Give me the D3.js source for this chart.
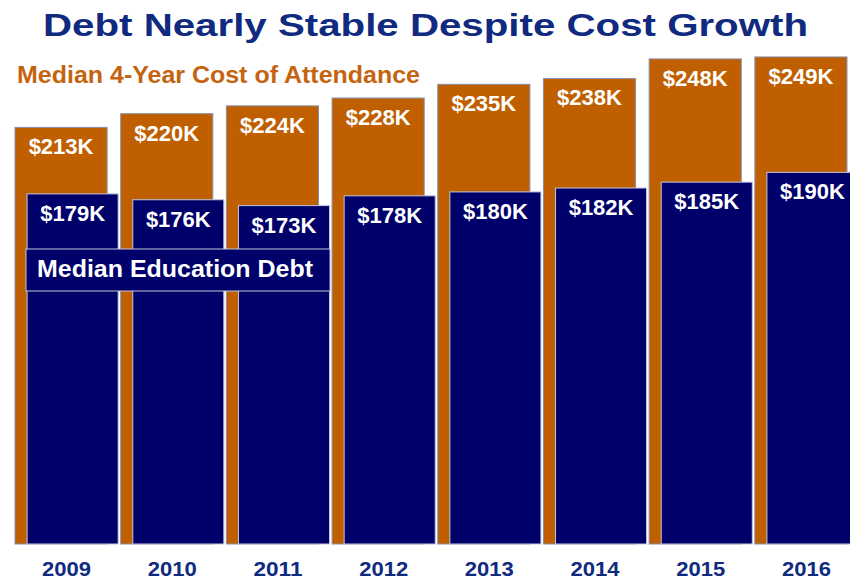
<!DOCTYPE html>
<html>
<head>
<meta charset="utf-8">
<script src="https://cdn.jsdelivr.net/npm/d3@7"></script>
<style>
  body { margin: 0; background: #fff; }
  svg { display: block; font-family: "Liberation Sans", Arial, sans-serif; }
</style>
</head>
<body>
<div id="chart"></div>
<script>
// data
const years = ["2009", "2010", "2011", "2012", "2013", "2014", "2015", "2016"];
const costOfAttendance = [213, 220, 224, 228, 235, 238, 248, 249];
const educationDebt = [179, 176, 173, 178, 180, 182, 185, 190];

const width = 850,
  height = 581;

const orange = "#bf5f00",
  navy = "#00006b",
  titleBlue = "#0f2a7e";

const svg = d3
  .select("#chart")
  .append("svg")
  .attr("width", width)
  .attr("height", height);

const x = d3.scaleBand().domain(years).range([15, 858]).paddingInner(0.024);

const y = d3.scaleLinear().domain([0, 250]).range([544, 55]);

const bw = x.bandwidth();
const costW = bw * 0.893,
  debtOff = bw * 0.117,
  debtW = bw * 0.883;

const data = years.map((yr, i) => ({
  year: yr,
  cost: costOfAttendance[i],
  debt: educationDebt[i],
}));

const fmt = (v) => "$" + v + "K";

const g = svg.selectAll("g.year").data(data).join("g").attr("class", "year");

// cost bars (orange, behind)
g.append("rect")
  .attr("x", (d) => x(d.year))
  .attr("y", (d) => y(d.cost))
  .attr("width", costW)
  .attr("height", (d) => y(0) - y(d.cost))
  .attr("fill", orange)
  .attr("stroke", "#8590ad")
  .attr("stroke-width", 1);

g.append("text")
  .attr("x", (d) => x(d.year) + costW / 2)
  .attr("y", (d) => y(d.cost) + 27)
  .attr("text-anchor", "middle")
  .attr("fill", "#fff")
  .attr("font-weight", "bold")
  .attr("font-size", 22)
  .text((d) => fmt(d.cost));

// debt bars (navy, front)
g.append("rect")
  .attr("x", (d) => x(d.year) + debtOff)
  .attr("y", (d) => y(d.debt))
  .attr("width", debtW)
  .attr("height", (d) => y(0) - y(d.debt))
  .attr("fill", navy)
  .attr("stroke", "#c4c8da")
  .attr("stroke-width", 1);

g.append("text")
  .attr("x", (d) => x(d.year) + debtOff + debtW / 2)
  .attr("y", (d) => y(d.debt) + 27)
  .attr("text-anchor", "middle")
  .attr("fill", "#fff")
  .attr("font-weight", "bold")
  .attr("font-size", 22)
  .text((d) => fmt(d.debt));

// year labels
svg
  .selectAll("text.yr")
  .data(years)
  .join("text")
  .attr("class", "yr")
  .attr("x", (d) => x(d) + bw / 2)
  .attr("y", 576)
  .attr("text-anchor", "middle")
  .attr("fill", titleBlue)
  .attr("font-weight", "bold")
  .attr("font-size", 21)
  .attr("textLength", 49)
  .attr("lengthAdjust", "spacingAndGlyphs")
  .text((d) => d);

// title
svg
  .append("text")
  .attr("x", 425.5)
  .attr("y", 36)
  .attr("text-anchor", "middle")
  .attr("fill", titleBlue)
  .attr("font-weight", "bold")
  .attr("font-size", 32)
  .attr("textLength", 765)
  .attr("lengthAdjust", "spacingAndGlyphs")
  .text("Debt Nearly Stable Despite Cost Growth");

// cost label
svg
  .append("text")
  .attr("x", 17)
  .attr("y", 83)
  .attr("fill", "#c5640f")
  .attr("font-weight", "bold")
  .attr("font-size", 23)
  .attr("textLength", 403)
  .attr("lengthAdjust", "spacingAndGlyphs")
  .text("Median 4-Year Cost of Attendance");

// debt label box
svg
  .append("rect")
  .attr("x", 26)
  .attr("y", 249)
  .attr("width", 304)
  .attr("height", 42)
  .attr("fill", navy)
  .attr("stroke", "#c4c8da")
  .attr("stroke-width", 1);

svg
  .append("text")
  .attr("x", 37)
  .attr("y", 277)
  .attr("fill", "#fff")
  .attr("font-weight", "bold")
  .attr("font-size", 23)
  .attr("textLength", 276)
  .attr("lengthAdjust", "spacingAndGlyphs")
  .text("Median Education Debt");
</script>
</body>
</html>
